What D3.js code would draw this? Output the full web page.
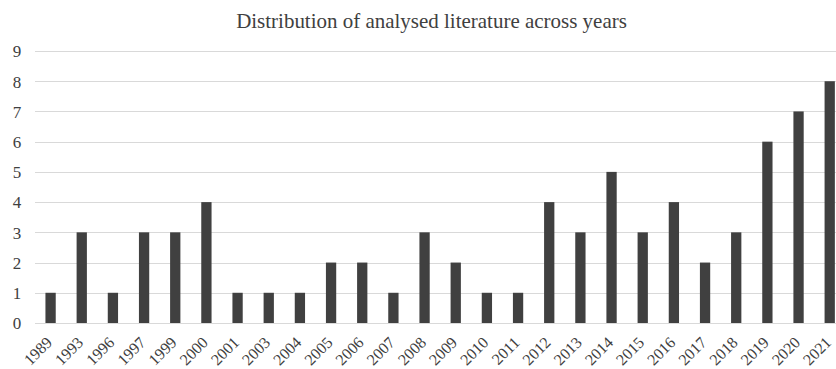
<!DOCTYPE html>
<html>
<head>
<meta charset="utf-8">
<script src="https://cdn.jsdelivr.net/npm/d3@7"></script>
<style>
  html, body { margin: 0; padding: 0; background: #fff; }
  svg { display: block; }
  svg text { font-family: "Liberation Serif", "Times New Roman", serif !important; }
</style>
</head>
<body>
<svg id="chart" width="836" height="369"></svg>
<script>
const years = ["1989","1993","1996","1997","1999","2000","2001","2003","2004","2005","2006","2007","2008","2009","2010","2011","2012","2013","2014","2015","2016","2017","2018","2019","2020","2021"];
const counts = [1,3,1,3,3,4,1,1,1,2,2,1,3,2,1,1,4,3,5,3,4,2,3,6,7,8];
const yTicks = [0,1,2,3,4,5,6,7,8,9];
const title = "Distribution of analysed literature across years";

const FONT = "'Liberation Serif', 'Times New Roman', serif";
const INK = "#404040";

const svg = d3.select("#chart").attr("font-family", FONT);

const x = d3.scaleBand().domain(years).range([35, 845.3]).paddingInner(0.67).paddingOuter(0.335);
const y = d3.scaleLinear().domain([0, 9]).range([323, 51]);

// horizontal gridlines
svg.append("g")
  .selectAll("line")
  .data(yTicks)
  .join("line")
  .attr("x1", 35).attr("x2", 845)
  .attr("y1", d => Math.round(y(d)) + 0.5).attr("y2", d => Math.round(y(d)) + 0.5)
  .attr("stroke", "#d9d9d9").attr("stroke-width", 1);

// y axis labels
const yAxis = svg.append("g")
  .attr("transform", "translate(17,0)")
  .call(d3.axisLeft(y).tickValues(yTicks).tickSize(0).tickPadding(0));
yAxis.attr("font-family", FONT).attr("font-size", 17);
yAxis.select(".domain").remove();
yAxis.selectAll("text")
  .attr("fill", INK).attr("text-anchor", "middle").attr("x", 0).attr("dy", "0.34em");

// bars
svg.append("g")
  .selectAll("rect")
  .data(years.map((d, i) => ({ year: d, value: counts[i] })))
  .join("rect")
  .attr("x", d => x(d.year))
  .attr("width", x.bandwidth())
  .attr("y", d => y(d.value))
  .attr("height", d => y(0) - y(d.value))
  .attr("fill", INK);

// x axis labels, rotated
const xAxis = svg.append("g")
  .attr("transform", `translate(0,${y(0)})`)
  .call(d3.axisBottom(x).tickSize(0).tickPadding(0));
xAxis.attr("font-family", FONT).attr("font-size", 16);
xAxis.select(".domain").remove();
xAxis.selectAll("text")
  .attr("fill", INK)
  .attr("text-anchor", "end")
  .attr("y", 0).attr("dy", 0)
  .attr("transform", "translate(2.5,20.5) rotate(-45)");

// chart title
const t = svg.append("text")
  .attr("x", 431.5).attr("y", 28)
  .attr("text-anchor", "middle")
  .attr("font-size", 20)
  .attr("fill", INK)
  .text(title);
const w = t.node().getComputedTextLength();
t.attr("font-size", (20 * 391 / w).toFixed(2));
</script>
</body>
</html>
